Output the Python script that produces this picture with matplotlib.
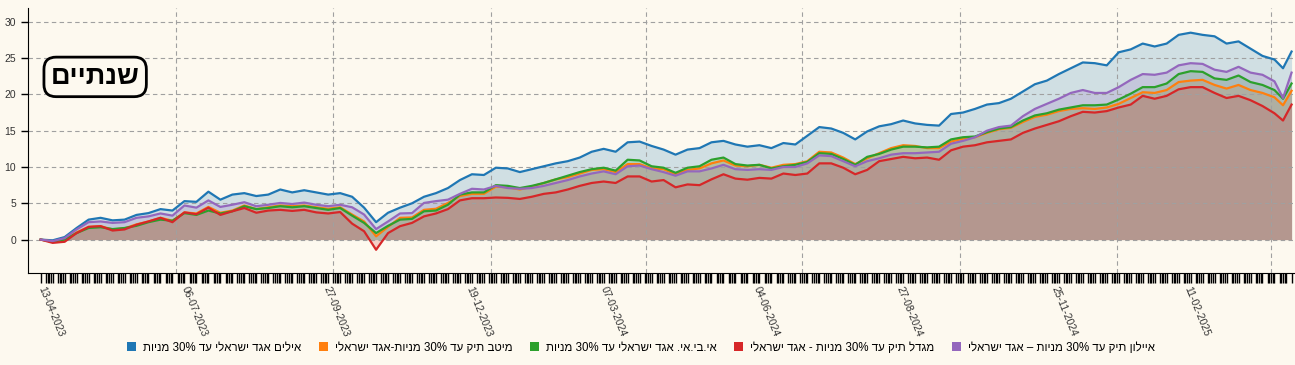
import pandas as pd
import matplotlib
matplotlib.use('Agg')
import matplotlib.pyplot as plt
from matplotlib.patches import Patch

plt.rcParams['font.family'] = ['Liberation Sans', 'DejaVu Sans']

dates = list(pd.date_range('2023-04-13', periods=104, freq='7D')) + \
    [pd.Timestamp('2025-04-08'), pd.Timestamp('2025-04-13')]

ayalim = [0, -0.1, 0.35, 1.6, 2.75, 3.0, 2.65, 2.75, 3.4, 3.65,
          4.2, 4.0, 5.3, 5.2, 6.6, 5.5, 6.2, 6.4, 6.0, 6.2,
          6.9, 6.5, 6.8, 6.5, 6.2, 6.4, 5.9, 4.4, 2.4, 3.7,
          4.4, 5.0, 5.9, 6.4, 7.1, 8.2, 9.0, 8.9, 9.9, 9.8,
          9.3, 9.7, 10.1, 10.5, 10.8, 11.3, 12.1, 12.5, 12.1, 13.4,
          13.5, 12.9, 12.4, 11.7, 12.4, 12.6, 13.4, 13.6, 13.1, 12.8,
          13.0, 12.6, 13.3, 13.1, 14.3, 15.5, 15.3, 14.7, 13.8, 14.9,
          15.6, 15.9, 16.4, 16.0, 15.8, 15.7, 17.3, 17.5, 18.0, 18.6,
          18.8, 19.4, 20.4, 21.4, 21.9, 22.8, 23.6, 24.4, 24.3, 24.0,
          25.8, 26.2, 27.0, 26.6, 27.0, 28.2, 28.5, 28.2, 28.0, 27.0,
          27.3, 26.3, 25.3, 24.8, 23.6, 25.9]

meitav = [0, -0.3, 0, 1.0, 1.75, 1.85, 1.4, 1.55, 2.1, 2.5,
          3.0, 2.6, 3.75, 3.6, 4.5, 3.7, 4.0, 4.7, 4.2, 4.45,
          4.7, 4.6, 4.7, 4.45, 4.25, 4.45, 3.45, 2.5, 0.45, 1.75,
          3.0, 3.05, 4.1, 4.25, 5.05, 6.0, 6.3, 6.3, 7.3, 7.2,
          6.9, 7.3, 7.8, 8.3, 8.6, 9.1, 9.6, 9.7, 9.3, 10.4,
          10.4, 9.8, 9.7, 9.0, 9.6, 9.8, 10.5, 10.9, 10.2, 10.1,
          10.3, 9.9, 10.3, 10.4, 10.8, 12.1, 12.0, 11.3, 10.4, 11.2,
          11.9, 12.6, 13.0, 12.9, 12.6, 12.6, 13.5, 13.9, 14.1, 14.7,
          15.2, 15.4, 16.2, 16.9, 17.2, 17.7, 18.0, 18.1, 18.0, 18.2,
          18.7, 19.5, 20.3, 20.2, 20.6, 21.7, 21.9, 22.0, 21.3, 20.8,
          21.3, 20.6, 20.2, 19.6, 18.5, 20.5]

ibi = [0, -0.3, 0, 0.9, 1.6, 1.7, 1.45, 1.6, 1.9, 2.4,
       2.75, 2.6, 3.65, 3.4, 4.0, 3.6, 3.9, 4.6, 4.2, 4.35,
       4.6, 4.45, 4.6, 4.35, 4.1, 4.35, 3.3, 2.3, 0.9, 1.9,
       2.75, 2.85, 3.9, 4.0, 4.8, 6.2, 6.5, 6.5, 7.5, 7.4,
       7.1, 7.4, 7.8, 8.3, 8.8, 9.3, 9.7, 9.9, 9.5, 11.0,
       10.9, 10.1, 9.9, 9.2, 9.9, 10.1, 11.0, 11.3, 10.4, 10.2,
       10.3, 9.8, 10.1, 10.3, 10.7, 11.9, 11.8, 11.1, 10.3, 11.4,
       11.8, 12.4, 12.8, 12.8, 12.7, 12.8, 13.8, 14.1, 14.2, 14.8,
       15.3, 15.5, 16.4, 17.1, 17.4, 17.9, 18.2, 18.5, 18.5, 18.6,
       19.3, 20.1, 21.0, 21.0, 21.5, 22.8, 23.2, 23.1, 22.2, 22.0,
       22.6, 21.7, 21.3, 20.6, 19.4, 21.5]

migdal = [0, -0.45, -0.3, 0.9, 1.75, 1.85, 1.25, 1.4, 2.05, 2.5,
          3.0, 2.4, 3.75, 3.5, 4.4, 3.4, 3.9, 4.35, 3.7, 4.0,
          4.1, 3.95, 4.1, 3.75, 3.6, 3.8, 2.2, 1.15, -1.4, 0.9,
          1.85, 2.3, 3.2, 3.6, 4.2, 5.4, 5.7, 5.7, 5.8, 5.75,
          5.6, 5.9, 6.3, 6.5, 6.9, 7.4, 7.8, 8.0, 7.8, 8.7,
          8.7, 8.0, 8.2, 7.2, 7.6, 7.5, 8.3, 9.0, 8.4, 8.25,
          8.5, 8.4, 9.1, 8.9, 9.1, 10.5, 10.5, 9.9, 9.0, 9.6,
          10.8, 11.1, 11.4, 11.2, 11.3, 11.0, 12.3, 12.8, 13.0, 13.4,
          13.6, 13.8, 14.7, 15.3, 15.8, 16.3, 17.0, 17.6, 17.5, 17.7,
          18.2, 18.6, 19.8, 19.4, 19.8, 20.7, 21.0, 21.0, 20.2, 19.5,
          19.8, 19.2, 18.4, 17.4, 16.4, 18.6]

ayalon = [0, -0.2, 0.2, 1.4, 2.4, 2.5, 2.3, 2.4, 3.0, 3.2,
          3.6, 3.3, 4.7, 4.4, 5.4, 4.5, 4.8, 5.15, 4.6, 4.8,
          5.05, 4.9, 5.1, 4.8, 4.6, 4.8, 4.45, 3.45, 1.45, 2.5,
          3.6, 3.65, 5.05, 5.3, 5.5, 6.3, 7.0, 6.9, 7.4, 7.1,
          7.0, 7.1, 7.4, 7.8, 8.2, 8.7, 9.1, 9.4, 9.0, 10.1,
          10.2, 9.7, 9.3, 8.8, 9.4, 9.4, 9.8, 10.3, 9.7, 9.6,
          9.7, 9.6, 10.0, 10.0, 10.5, 11.6, 11.5, 10.8, 10.1, 10.8,
          11.2, 11.7, 11.9, 11.9, 12.0, 12.1, 13.2, 13.6, 14.1, 15.0,
          15.5, 15.7, 17.0, 18.0, 18.7, 19.4, 20.2, 20.6, 20.2, 20.2,
          21.0, 22.0, 22.8, 22.7, 23.0, 24.0, 24.3, 24.2, 23.4, 23.1,
          23.8, 23.0, 22.7, 21.8, 19.5, 23.0]

names = ['אילים אגד ישראלי עד 30% מניות',
         'מיטב תיק עד 30% מניות-אגד ישראלי',
         'אי.בי.אי. אגד ישראלי עד 30% מניות',
         'מגדל תיק עד 30% מניות - אגד ישראלי',
         'איילון תיק עד 30% מניות – אגד ישראלי']
colors = ['#1f77b4', '#ff7f0e', '#2ca02c', '#d62728', '#9467bd']
series = [ayalim, meitav, ibi, migdal, ayalon]

label_dates = ['13-04-2023', '06-07-2023', '27-09-2023', '19-12-2023', '07-03-2024',
               '04-06-2024', '27-08-2024', '25-11-2024', '11-02-2025']
grid_dates = ['2023-07-01', '2023-10-01', '2024-01-01', '2024-04-01',
              '2024-07-01', '2024-10-01', '2025-01-01', '2025-04-01']
title = 'שנתיים'
bg = '#fdf9ef'


def rtl(s):
    # matplotlib has no bidi, so put hebrew in visual order
    out = []
    for w in reversed(s.split(' ')):
        out.append(w if any(c.isdigit() for c in w) else w[::-1])
    return ' '.join(out)


fig = plt.figure(figsize=(12.95, 3.65), dpi=100, facecolor=bg)
ax = fig.add_axes([28 / 1295, 1 - 273 / 365, 1267 / 1295, 265 / 365])
ax.set_facecolor(bg)

for y in range(0, 31, 5):
    ax.axhline(y, color='#a0a0a0', lw=0.8, ls=(0, (4, 3)), zorder=1.5)
for d in grid_dates:
    ax.axvline(pd.Timestamp(d), color='#a0a0a0', lw=0.8, ls=(0, (4, 3)), zorder=1.5)

for s, c in zip(series, colors):
    ax.fill_between(dates, 0, s, color=c, alpha=0.2, lw=0, zorder=1)
for s, c in zip(series, colors):
    ax.plot(dates, s, color=c, lw=1.6, zorder=2)

ax.set_xlim(pd.Timestamp('2023-04-05 14:00'), pd.Timestamp('2025-04-15'))
ax.set_ylim(-4.6, 31.9)
ax.set_yticks(range(0, 31, 5))

ticks = pd.to_datetime(label_dates, format='%d-%m-%Y')
ax.set_xticks(ticks)
ax.set_xticklabels(label_dates)
trade_days = pd.bdate_range('2023-04-13', '2025-04-13', freq='C',
                            weekmask='Sun Mon Tue Wed Thu')
ax.set_xticks(trade_days, minor=True)
ax.tick_params(axis='x', which='both', length=7, width=1, direction='out', pad=3,
               labelsize=7.5, colors='black', labelcolor='#333333')
ax.tick_params(axis='y', length=5, width=1, labelsize=7.5, labelcolor='#333333')
plt.setp(ax.get_xticklabels(), rotation=-68, ha='left', va='center',
         rotation_mode='anchor')

for sp in ['top', 'right']:
    ax.spines[sp].set_visible(False)
for sp in ['left', 'bottom']:
    ax.spines[sp].set_color('black')

ax.text(0.053, 0.74, rtl(title), transform=ax.transAxes, fontsize=19.5,
        fontweight='bold', ha='center', va='center',
        bbox=dict(boxstyle='round,pad=0.25,rounding_size=0.45', fc=bg, ec='black', lw=2))

handles = [Patch(facecolor=c, edgecolor='none') for c in colors]
fig.legend(handles, [rtl(n) for n in names], loc='center', bbox_to_anchor=(0.495, 0.047),
           ncol=5, frameon=False, fontsize=8.3, handlelength=0.8, handleheight=0.8,
           columnspacing=1.5, handletextpad=0.6)

fig.savefig('out.png', dpi=100, facecolor=bg)
